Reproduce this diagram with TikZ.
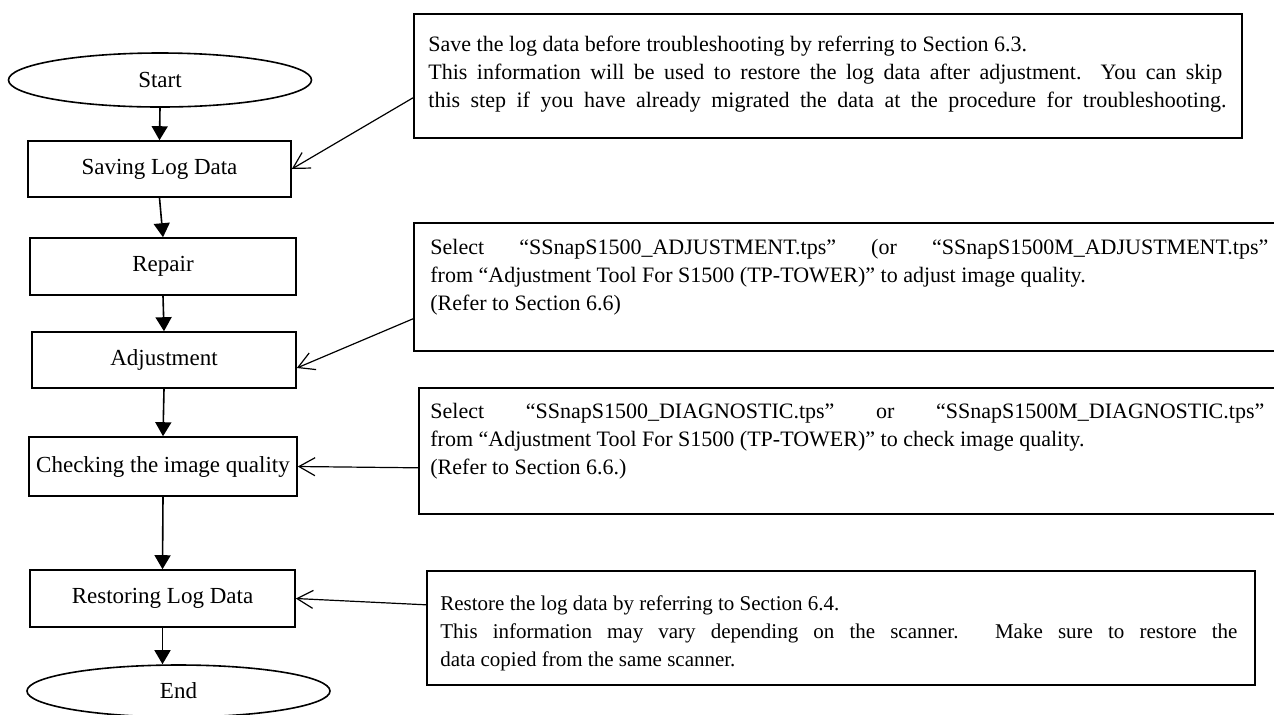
\documentclass[tikz,border=0pt]{standalone}
\usepackage{fontspec}
\setmainfont{Liberation Serif}
\usetikzlibrary{
arrows.meta,
positioning,
shapes.geometric
}

\begin{document}
\begin{tikzpicture}[x=0.5pt, y=-0.5pt,
  flowbox/.style={draw, line width=0.8pt, inner sep=0pt, font=\fontsize{11.5}{13}\selectfont},
  terminal/.style={draw, ellipse, line width=0.8pt, inner sep=0pt, minimum width=151.5pt, minimum height=27pt, font=\fontsize{11.5}{13}\selectfont},
  notebox/.style={draw, line width=0.8pt, inner sep=0pt, anchor=north west},
  notetext/.style={align=left, anchor=north west, inner sep=0pt, font=\fontsize{11}{14}\selectfont},
  flow/.style={-{Triangle[length=7pt,width=8pt]}, line width=0.8pt},
  hint/.style={-{Straight Barb[length=8pt,width=9pt]}, line width=0.6pt}]

\useasboundingbox (0,0) rectangle (1274,714);

% Main flow
\node[terminal] (start) at (160,80) {Start};
\node[flowbox, minimum width=131.5pt, minimum height=28pt] (saving) at (159.5,169) {Saving Log Data};
\node[flowbox, minimum width=133pt, minimum height=28.5pt] (repair) at (163,266.5) {Repair};
\node[flowbox, minimum width=132pt, minimum height=28pt] (adjust) at (164,360) {Adjustment};
\node[flowbox, minimum width=134pt, minimum height=29.5pt] (check) at (163,466.5) {Checking the image quality};
\node[flowbox, minimum width=132.5pt, minimum height=28.5pt] (restore) at (162.5,598.5) {Restoring Log Data};
\node[terminal, minimum height=26pt] (end) at (178.5,691) {End};

\draw[flow] (start.south) -- (saving.north);
\draw[flow] (saving.south) -- (repair.north);
\draw[flow] (repair.south) -- (adjust.north);
\draw[flow] (adjust.south) -- (check.north);
\draw[flow] (check.south) -- (restore.north);
\draw[flow] (restore.south) -- (restore.south |- end.north);

% Notes
\node[notebox, minimum width=414pt, minimum height=62pt] (n1box) at (413,13) {};
\node[notetext] (n1) at (428,36) {Save the log data before troubleshooting by referring to Section 6.3.\\
\makebox[397pt][s]{This information will be used to restore the log data after adjustment. You can skip}\\
\makebox[399pt][s]{this step if you have already migrated the data at the procedure for troubleshooting.}};

\node[notebox, minimum width=440pt, minimum height=64pt] (n2box) at (413,222) {};
\node[notetext] (n2) at (430,239) {\makebox[419pt][s]{Select “SSnapS1500\_ADJUSTMENT.tps” (or “SSnapS1500M\_ADJUSTMENT.tps”}\\
from “Adjustment Tool For S1500 (TP-TOWER)” to adjust image quality.\\
(Refer to Section 6.6)};

\node[notebox, minimum width=436pt, minimum height=63pt] (n3box) at (418,387) {};
\node[notetext] (n3) at (430,403) {\makebox[417pt][s]{Select “SSnapS1500\_DIAGNOSTIC.tps” or “SSnapS1500M\_DIAGNOSTIC.tps”}\\
from “Adjustment Tool For S1500 (TP-TOWER)” to check image quality.\\
(Refer to Section 6.6.)};

\node[notebox, minimum width=414pt, minimum height=57pt] (n4box) at (426,570) {};
\node[notetext, font=\fontsize{10.5}{14}\selectfont] (n4) at (440,595) {Restore the log data by referring to Section 6.4.\\
\makebox[398.5pt][s]{This information may vary depending on the scanner. Make sure to restore the}\\
data copied from the same scanner.};

% Note pointers
\draw[hint] ([yshift=-11pt]n1box.west) -- (saving.east);
\draw[hint] ([yshift=-16pt]n2box.west) -- ([yshift=-4pt]adjust.east);
\draw[hint] ([yshift=-8.5pt]n3box.west) -- (check.east);
\draw[hint] ([yshift=11.5pt]n4box.west) -- (restore.east);

\end{tikzpicture}
\end{document}
